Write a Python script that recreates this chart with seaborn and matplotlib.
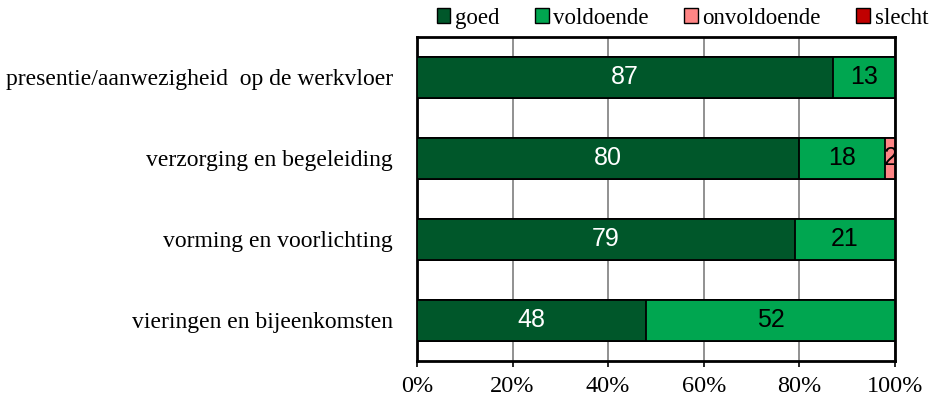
import matplotlib
matplotlib.use("Agg")
import matplotlib.pyplot as plt
import seaborn as sns
import pandas as pd
from matplotlib.patches import Patch

categories = [
    "presentie/aanwezigheid  op de werkvloer",
    "verzorging en begeleiding",
    "vorming en voorlichting",
    "vieringen en bijeenkomsten",
]
goed = [87, 80, 79, 48]
voldoende = [13, 18, 21, 52]
onvoldoende = [0, 2, 0, 0]
slecht = [0, 0, 0, 0]

series = ["goed", "voldoende", "onvoldoende", "slecht"]
colors = ["#00572A", "#00A650", "#FF8585", "#C00000"]
values = [goed, voldoende, onvoldoende, slecht]

sns.set_style("white")
plt.rcParams["font.family"] = ["Liberation Serif", "DejaVu Serif"]
plt.rcParams["text.color"] = "black"
plt.rcParams["xtick.color"] = "black"
plt.rcParams["ytick.color"] = "black"

fig = plt.figure(figsize=(9.31, 4.01), dpi=100)
ax = fig.add_axes([0.4479, 0.0998, 0.5134, 0.808])

# cumulative totals, drawn from the end backwards so bars overlap into a stack
df = pd.DataFrame({"cat": categories})
cum = [0] * len(categories)
cums = []
for v in values:
    cum = [c + x for c, x in zip(cum, v)]
    cums.append(list(cum))

for name, col, c in reversed(list(zip(series, colors, cums))):
    df[name] = c
    sns.barplot(data=df, x=name, y="cat", color=col, orient="h", width=0.5,
                saturation=1, edgecolor="black", linewidth=1.3, ax=ax, zorder=3)

# value labels
starts = [0] * len(categories)
for name, v in zip(series, values):
    for i, x in enumerate(v):
        if x > 0:
            tc = "white" if name == "goed" else "black"
            ax.text(starts[i] + x / 2, i, str(x), ha="center", va="center",
                    fontsize=18, color=tc, family="Liberation Sans",
                    zorder=5, clip_on=True)
        starts[i] += x

ax.set_xlim(0, 100)
ax.set_ylim(3.5, -0.5)
ax.set_xticks([0, 20, 40, 60, 80, 100])
ax.set_xticklabels(["0%", "20%", "40%", "60%", "80%", "100%"], fontsize=17.5)
ax.tick_params(axis="x", bottom=True, length=4, width=1.2, color="black", pad=7)
ax.tick_params(axis="y", left=False, labelsize=17, pad=14)
ax.set_xlabel("")
ax.set_ylabel("")
ax.xaxis.grid(True, color="#888888", linewidth=1.3, zorder=0)
ax.set_axisbelow(True)
for s in ax.spines.values():
    s.set_visible(True)
    s.set_color("black")
    s.set_linewidth(2)

handles = [Patch(facecolor=c, edgecolor="black", label=s) for s, c in zip(series, colors)]
fig.legend(handles=handles, loc="center", bbox_to_anchor=(0.733, 0.955), ncol=4,
           frameon=False, fontsize=16.5, handlelength=0.6, handleheight=0.6,
           handletextpad=0.2, columnspacing=1.55, borderpad=0)

fig.savefig("out.png", dpi=100)
